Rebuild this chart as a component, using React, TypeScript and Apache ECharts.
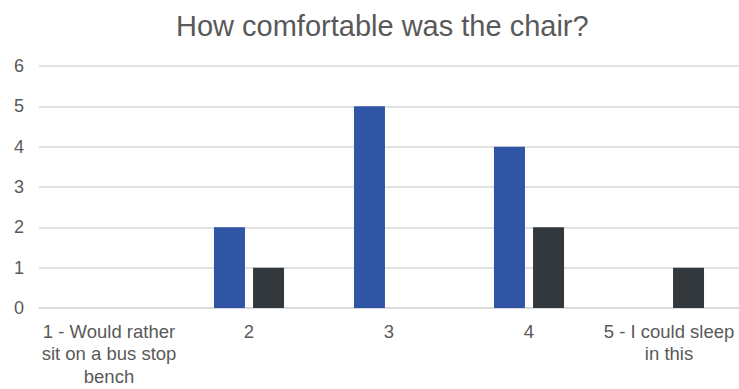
import React, { useEffect, useRef } from "react";
import * as echarts from "echarts";

const title = "How comfortable was the chair?";
const categories = [
  "1 - Would rather sit on a bus stop bench",
  "2",
  "3",
  "4",
  "5 - I could sleep in this",
];
const tickLabels = [
  "1 - Would rather\nsit on a bus stop\nbench",
  "2",
  "3",
  "4",
  "5 - I could sleep\nin this",
];
const seriesA = [0, 2, 5, 4, 0];
const seriesB = [0, 1, 0, 2, 1];

export default function App() {
  const ref = useRef<HTMLDivElement>(null);
  useEffect(() => {
    document.body.style.margin = "0";
    const chart = echarts.init(ref.current!, null, { renderer: "svg" });
    const font = "'Liberation Sans', Arial, sans-serif";
    chart.setOption({
      animation: false,
      backgroundColor: "#ffffff",
      title: {
        text: title,
        left: 171,
        top: 6,
        textStyle: { fontFamily: font, fontSize: 29, fontWeight: "normal", color: "#595959" },
      },
      grid: { left: 39, right: 0, top: 66, bottom: 81 },
      xAxis: {
        type: "category",
        data: categories,
        axisTick: { show: false },
        axisLine: { lineStyle: { color: "#d9d9d9", width: 1.5 } },
        axisLabel: {
          fontFamily: font,
          fontSize: 18.5,
          color: "#595959",
          lineHeight: 22.5,
          margin: 12,
          interval: 0,
          formatter: (_v: string, i: number) => tickLabels[i],
        },
      },
      yAxis: {
        type: "value",
        min: 0,
        max: 6,
        interval: 1,
        axisLabel: { fontFamily: font, fontSize: 18, color: "#595959", margin: 15 },
        splitLine: { lineStyle: { color: "#d9d9d9", width: 1.5 } },
      },
      series: [
        {
          type: "bar",
          data: seriesA,
          barWidth: 31,
          barGap: "26%",
          itemStyle: { color: "#3055a5" },
        },
        {
          type: "bar",
          data: seriesB,
          barWidth: 31,
          itemStyle: { color: "#32383b" },
        },
      ],
    });
    return () => chart.dispose();
  }, []);
  return <div ref={ref} style={{ width: 739, height: 389 }} />;
}
